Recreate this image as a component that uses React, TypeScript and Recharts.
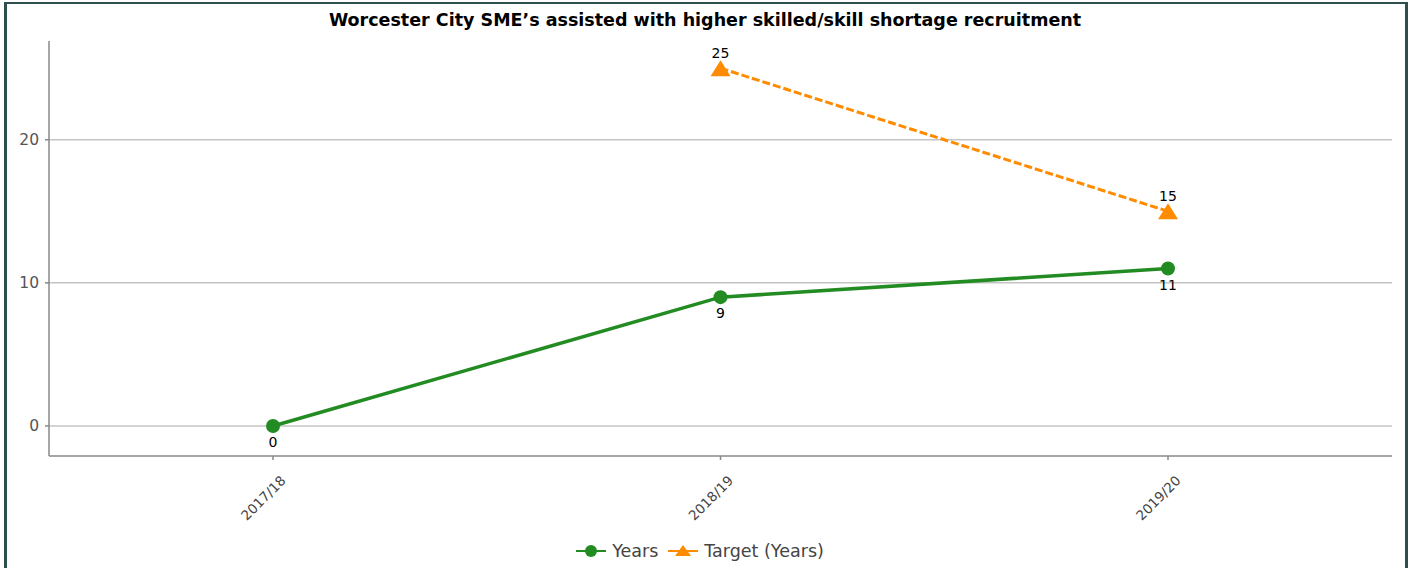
import { LineChart, Line, XAxis, YAxis, ReferenceLine, LabelList, Legend } from 'recharts'

const categories = ['2017/18', '2018/19', '2019/20']
const yearsValues = [0, 9, 11]
const targetValues: (number | null)[] = [null, 25, 15]
const yTicks = [0, 10, 20]
const seriesOrder = ['Years', 'Target (Years)']

const GREEN = '#228B22'
const ORANGE = '#FF8C00'
const FONT = '"DejaVu Sans", Verdana, sans-serif'

const data = categories.map((period, i) => ({
  period,
  years: yearsValues[i],
  target: targetValues[i],
}))

function TriangleDot(props: any) {
  const { cx, cy, value } = props
  if (cx == null || cy == null || value == null) return null
  return <polygon points={`${cx},${cy - 8} ${cx + 10},${cy + 8} ${cx - 10},${cy + 8}`} fill={ORANGE} />
}

function CategoryTick(props: any) {
  const { x, y, payload } = props
  const ax = x + 10
  const ay = y + 16
  return (
    <text
      x={ax}
      y={ay}
      transform={`rotate(-45, ${ax}, ${ay})`}
      textAnchor="end"
      dominantBaseline="central"
      fontFamily={FONT}
      fontSize={13.5}
      fill="#444"
    >
      {payload.value}
    </text>
  )
}

function ValueLabel(props: any) {
  const { x, y, value, above } = props
  if (value == null || x == null || y == null) return null
  return (
    <text
      x={x}
      y={above ? y - 15 : y + 16}
      textAnchor="middle"
      dominantBaseline="central"
      fontFamily={FONT}
      fontSize={14}
      fill="#000"
    >
      {value}
    </text>
  )
}

function ChartLegend(props: any) {
  const payload = [...(props.payload || [])].sort(
    (a: any, b: any) => seriesOrder.indexOf(a.value) - seriesOrder.indexOf(b.value)
  )
  return (
    <div style={{ display: 'flex', justifyContent: 'center', alignItems: 'center', height: 20 }}>
      {payload.map((entry: any) => (
        <div key={entry.value} style={{ display: 'flex', alignItems: 'center', marginRight: 10 }}>
          <svg width={30} height={16} style={{ marginRight: 6 }}>
            <line x1={0} y1={8} x2={30} y2={8} stroke={entry.color} strokeWidth={2} />
            {entry.dataKey === 'target' ? (
              <polygon points="15,2 23,13 7,13" fill={entry.color} />
            ) : (
              <circle cx={15} cy={8} r={6} fill={entry.color} />
            )}
          </svg>
          <span style={{ fontFamily: FONT, fontSize: 17.5, color: '#444' }}>{entry.value}</span>
        </div>
      ))}
    </div>
  )
}

export default function App() {
  return (
    <div style={{ position: 'relative', width: 1410, height: 568, overflow: 'hidden', background: '#fff' }}>
      <style>{'body{margin:0}'}</style>
      <div
        style={{
          position: 'absolute',
          left: 4,
          top: 2,
          width: 1398,
          height: 700,
          borderLeft: '3px solid #2F4F4F',
          borderTop: '2px solid #2F4F4F',
          borderRight: '3px solid #2F4F4F',
        }}
      />
      <div
        style={{
          position: 'absolute',
          left: 0,
          top: 9,
          width: 1410,
          textAlign: 'center',
          fontFamily: FONT,
          fontWeight: 'bold',
          fontSize: 17.5,
          lineHeight: '22px',
          color: '#000',
        }}
      >
        Worcester City SME’s assisted with higher skilled/skill shortage recruitment
      </div>
      <LineChart width={1410} height={568} data={data} margin={{ top: 41, right: 18, bottom: 7, left: 0 }}>
        {yTicks.map((v) => (
          <ReferenceLine key={v} y={v} stroke="#c4c4c4" strokeWidth={1.5} />
        ))}
        <XAxis
          dataKey="period"
          padding={{ left: 224, right: 224 }}
          height={85}
          stroke="#888"
          strokeWidth={1.5}
          tickSize={4}
          tick={<CategoryTick />}
          interval={0}
        />
        <YAxis
          domain={[-2.1, 26.9]}
          ticks={yTicks}
          width={49}
          stroke="#888"
          strokeWidth={1.5}
          tickSize={4}
          tickMargin={6}
          tick={{ fontFamily: FONT, fontSize: 15.5, fill: '#555' }}
          allowDataOverflow
        />
        <Legend
          verticalAlign="bottom"
          content={<ChartLegend />}
          wrapperStyle={{ left: 0, width: 1410 }}
        />
        <Line
          name="Years"
          dataKey="years"
          stroke={GREEN}
          strokeWidth={3.5}
          dot={{ r: 7, fill: GREEN, stroke: 'none' }}
          activeDot={false}
          isAnimationActive={false}
        >
          <LabelList dataKey="years" content={<ValueLabel />} />
        </Line>
        <Line
          name="Target (Years)"
          dataKey="target"
          stroke={ORANGE}
          strokeWidth={3}
          strokeDasharray="8 3"
          dot={<TriangleDot />}
          activeDot={false}
          isAnimationActive={false}
        >
          <LabelList dataKey="target" content={<ValueLabel above />} />
        </Line>
      </LineChart>
    </div>
  )
}
